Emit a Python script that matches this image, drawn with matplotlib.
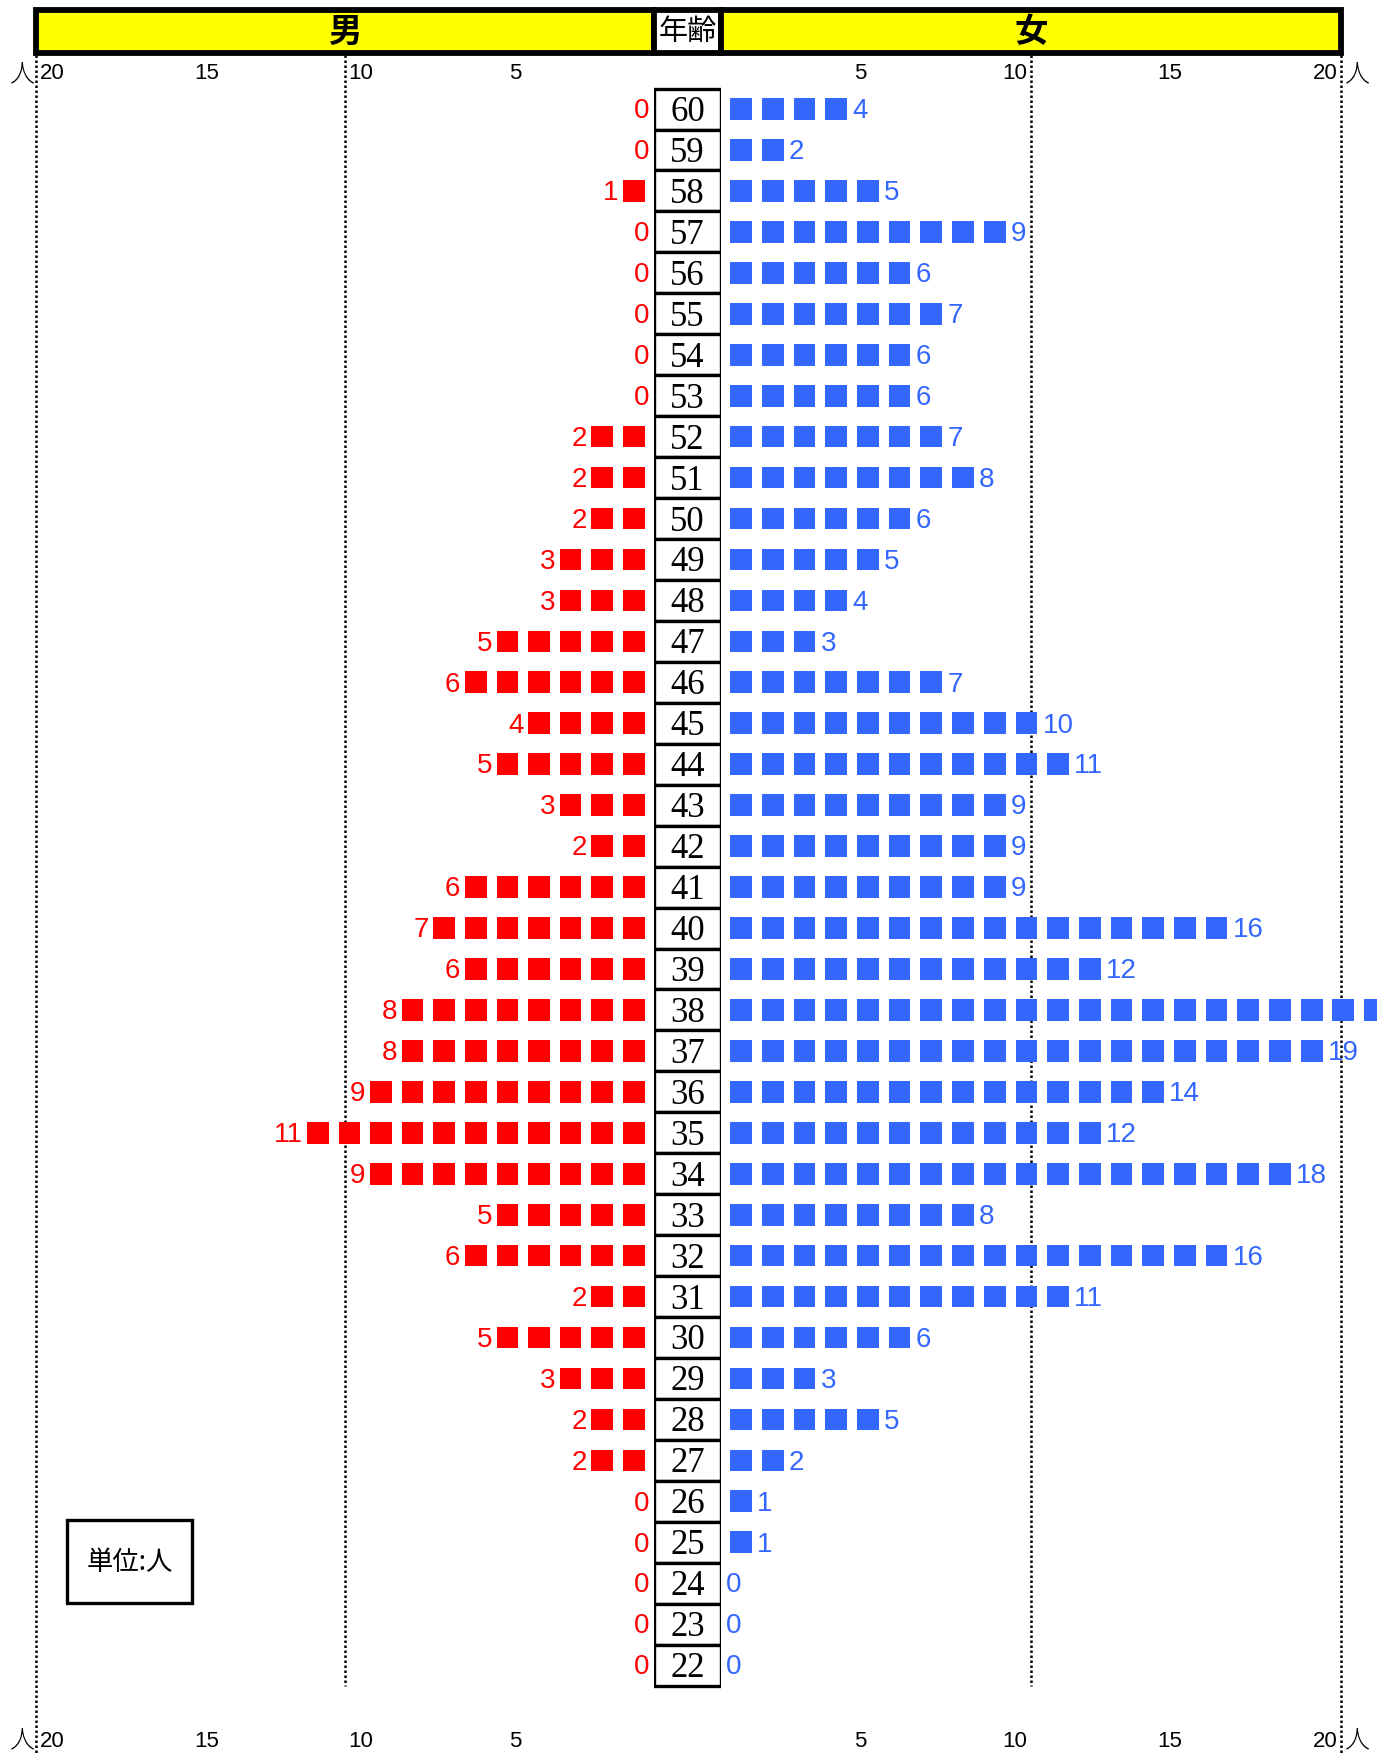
import numpy as np
import matplotlib
matplotlib.use('Agg')
import matplotlib.pyplot as plt
from matplotlib.patches import Rectangle

# ages from top row to bottom row
ages = list(range(60, 21, -1))
male = [0, 0, 1, 0, 0, 0, 0, 0, 2, 2, 2, 3, 3, 5, 6, 4, 5, 3, 2, 6,
        7, 6, 8, 8, 9, 11, 9, 5, 6, 2, 5, 3, 2, 2, 0, 0, 0, 0, 0]
female = [4, 2, 5, 9, 6, 7, 6, 6, 7, 8, 6, 5, 4, 3, 7, 10, 11, 9, 9, 9,
          16, 12, 21, 19, 14, 12, 18, 8, 16, 11, 6, 3, 5, 2, 1, 1, 0, 0, 0]
tick_vals = [20, 15, 10, 5]
grid_vals = [20, 10]

RED = '#ff0000'
BLUE = '#3366ff'
NUM_FONT = ['Liberation Sans Narrow', 'Liberation Sans', 'DejaVu Sans']
JP_FONT = ['Noto Sans CJK JP', 'DejaVu Sans']
AGE_FONT = ['Liberation Serif', 'DejaVu Serif']

# layout measured on a 1232 x 1568 grid, converted to figure fractions
W, H = 1232., 1568.
def fx(px):
    return px / W
def fy(py):
    return 1 - py / H

fig = plt.figure(figsize=(13.77, 17.56), dpi=100)

y_top = -0.5 - (80 - 50) / 36.58
y_bot = 38.5 + (1568 - 1506) / 36.58
ax_b = fy(1568)
ax_h = fy(50) - fy(1568)

ax_m = fig.add_axes([fx(32), ax_b, fx(585) - fx(32), ax_h])
ax_a = fig.add_axes([fx(585), ax_b, fx(645) - fx(585), ax_h])
ax_f = fig.add_axes([fx(645), ax_b, fx(1200) - fx(645), ax_h])

ax_m.set_xlim(20, 0)
ax_f.set_xlim(0, 20)
ax_a.set_xlim(0, 1)
for ax in (ax_m, ax_a, ax_f):
    ax.set_ylim(y_bot, y_top)
    ax.axis('off')

pitch = 1.022
sq_w = 0.70
sq_h = 0.53
rows = np.arange(len(ages))

for ax, vals, col, side in ((ax_m, male, RED, 'm'), (ax_f, female, BLUE, 'f')):
    # dotted guide lines
    for g in grid_vals:
        y_end = y_bot if g == 20 else 38.5
        ax.vlines(g, y_top, y_end, colors='k', linestyles=(0, (1, 1)),
                  linewidth=1.8, clip_on=False, zorder=1)
    # squares, one per person
    for r, v in zip(rows, vals):
        if v > 0:
            xs = 0.65 + np.arange(v) * pitch
            ax.bar(xs, sq_h, width=sq_w, bottom=r - sq_h / 2, color=col,
                   edgecolor='none', clip_on=False, zorder=3)
        if side == 'm':
            ax.text(v * pitch + 0.13, r + 0.03, str(v), color=col, ha='right',
                    va='center', fontsize=20, family=NUM_FONT, zorder=4)
        elif v <= 20:
            # counts above 20 run off the sheet, as in the original
            ax.text(v * pitch + 0.15, r + 0.03, str(v), color=col, ha='left',
                    va='center', fontsize=20, family=NUM_FONT, zorder=4,
                    clip_on=False)
    # tick labels top and bottom, shifted toward the centre
    for t in tick_vals:
        for ty in (-0.883, 39.85):
            ax.text(t - 0.52, ty, str(t), ha='center', va='center', fontsize=16,
                    family=NUM_FONT, clip_on=False)

# age column: one framed cell per age
ax_a.barh(rows, 1, height=1, left=0, color='white', edgecolor='k',
          linewidth=2.4, zorder=2)
for r, a in zip(rows, ages):
    ax_a.text(0.5, r + 0.06, str(a), ha='center', va='center', fontsize=25,
              family=AGE_FONT, zorder=3)

# header bar
hdr = fig.add_axes([fx(32), fy(48), fx(1200) - fx(32), fy(10) - fy(48)])
hdr.set_xlim(0, 1)
hdr.set_ylim(0, 1)
hdr.axis('off')
split1 = (585 - 32) / (1200 - 32)
split2 = (645 - 32) / (1200 - 32)
cells = [(0, split1, '#ffff00', '男'), (split1, split2, 'white', '年齢'),
         (split2, 1, '#ffff00', '女')]
for x0, x1, fc, lab in cells:
    hdr.add_patch(Rectangle((x0, 0), x1 - x0, 1, facecolor=fc, edgecolor='k',
                            linewidth=4.2, clip_on=False))
    if lab == '年齢':
        hdr.text((x0 + x1) / 2, 0.5, lab, ha='center', va='center',
                 fontsize=21, family=JP_FONT)
    else:
        hdr.text((x0 + x1) / 2, 0.5, lab, ha='center', va='center',
                 fontsize=24, family=JP_FONT, fontweight='bold')

# unit markers at the axis ends
for px in (20, 1215):
    for py in (66, 1554):
        fig.text(fx(px), fy(py), '人', ha='center', va='center', fontsize=18,
                 family=JP_FONT, fontweight='light')

# unit box
fig.patches.append(Rectangle((fx(60), fy(1432)), fx(172) - fx(60),
                             fy(1358) - fy(1432), transform=fig.transFigure,
                             facecolor='white', edgecolor='k', linewidth=2.4))
fig.text(fx(116), fy(1395), '単位:人', ha='center', va='center', fontsize=19,
         family=JP_FONT)

plt.savefig('out.png', dpi=100)
